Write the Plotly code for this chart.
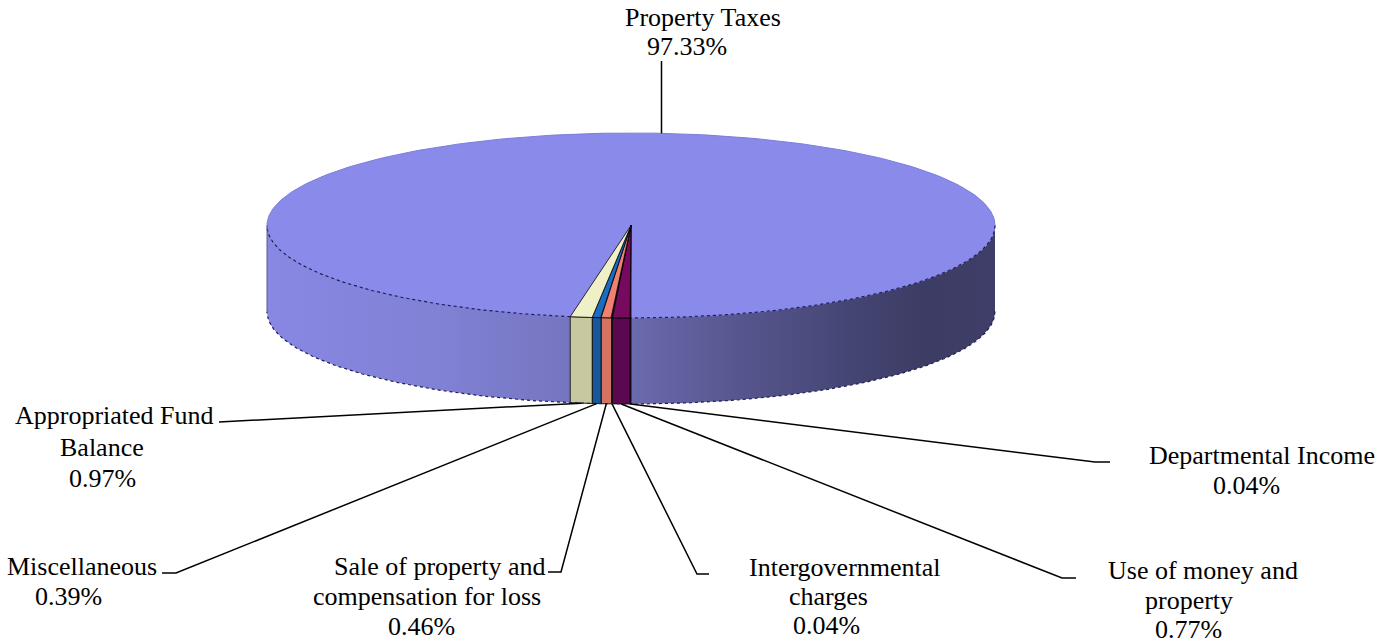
import numpy as np
import plotly.graph_objects as go

# ---- data (in angular order, starting at the front of the pie and moving left) ----
categories = ["Departmental Income", "Use of money and property", "Intergovernmental charges",
              "Sale of property and compensation for loss", "Miscellaneous",
              "Appropriated Fund Balance", "Property Taxes"]
values = [0.04, 0.77, 0.04, 0.46, 0.39, 0.97, 97.33]

# label text split into display lines
label_lines = [["Departmental Income"], ["Use of money and", "property"],
               ["Intergovernmental", "charges"], ["Sale of property and", "compensation for loss"],
               ["Miscellaneous"], ["Appropriated Fund", "Balance"], ["Property Taxes"]]

# ---- style / layout ----
top_colors = ["#9A3468", "#760A5E", "#C0ECEC", "#F08070", "#1A6CC0", "#F0F0C8", "#8A8AEA"]
wall_colors = ["#7A2852", "#5C0850", "#9CC8C8", "#D67262", "#17589A", "#C8C8A0", None]
wall_scale = [[0.0, "#8888E4"], [0.25, "#8080D4"], [0.4, "#7676C2"], [0.5, "#6A6AAE"],
              [0.65, "#56568E"], [0.8, "#454574"], [0.9, "#3C3C64"], [1.0, "#3E3E68"]]
CX, CY, RX, RY, DEPTH = 631.0, 225.5, 364.0, 92.5, 86.0
FONT = dict(family="Liberation Serif, Times New Roman, serif", size=26, color="black")

# label line centres (x, y) for each line (name lines then percent line)
label_pos = [[(1262, 455), (1246, 485)],
             [(1203, 570), (1189, 600), (1188, 629)],
             [(845, 567), (828, 596), (826, 625)],
             [(440, 566), (427, 596), (421, 626)],
             [(82, 566), (68, 596)],
             [(114, 415), (102, 447), (102, 478)],
             [(703, 17), (687, 46)]]
# leader elbows (elbow point, end point); Property Taxes leader ends straight up
leader_pts = [[(1095, 462), (1110, 462)],
              [(1062, 578), (1076, 578)],
              [(697, 574), (709, 574)],
              [(561, 572), (548, 572)],
              [(176, 573), (162, 573)],
              [(232, 422), (219, 422)],
              [None, 61]]


def pt(phi_deg, depth=0.0):
    p = np.radians(phi_deg)
    return CX - RX * np.sin(p), CY + RY * np.cos(p) + depth


def arc(a0, a1, depth=0.0, n=200):
    ph = np.linspace(a0, a1, n)
    return pt(ph, depth)


vals = np.array(values, dtype=float)
ang = np.concatenate([[0.0], np.cumsum(vals) / vals.sum() * 360.0])

fig = go.Figure()

# front wall of the large slice (gradient)
xt, yt = arc(-90, 90)
xb, yb = arc(90, -90, DEPTH)
fig.add_trace(go.Scatter(x=np.concatenate([xt, xb]), y=np.concatenate([yt, yb]),
                         mode="lines", fill="toself", line=dict(width=0),
                         fillgradient=dict(type="horizontal", colorscale=wall_scale),
                         hoverinfo="skip", showlegend=False))

# top face of the large slice (full ellipse, small wedges are drawn on top)
xe, ye = arc(0, 360, 0, 400)
fig.add_trace(go.Scatter(x=xe, y=ye, mode="lines", fill="toself",
                         fillcolor=top_colors[-1], line=dict(color="#7C7CDA", width=1),
                         hoverinfo="skip", showlegend=False))

# small slices: walls and top wedges
for i in range(len(values) - 1):
    a0, a1 = ang[i], ang[i + 1]
    xt, yt = arc(a0, a1, 0, 20)
    xb, yb = arc(a1, a0, DEPTH, 20)
    fig.add_trace(go.Scatter(x=np.concatenate([xt, xb, xt[:1]]), y=np.concatenate([yt, yb, yt[:1]]),
                             mode="lines", fill="toself", fillcolor=wall_colors[i],
                             line=dict(color="black", width=0.8),
                             hoverinfo="skip", showlegend=False, name=categories[i]))
for i in range(len(values) - 1):
    a0, a1 = ang[i], ang[i + 1]
    xa, ya = arc(a0, a1, 0, 20)
    fig.add_trace(go.Scatter(x=np.concatenate([[CX], xa, [CX]]), y=np.concatenate([[CY], ya, [CY]]),
                             mode="lines", fill="toself", fillcolor=top_colors[i],
                             line=dict(color="black", width=0.8),
                             hoverinfo="skip", showlegend=False, name=categories[i]))

# edges of the disc
xf, yf = arc(-90, ang[0])
fig.add_trace(go.Scatter(x=xf, y=yf, mode="lines", line=dict(color="#1E1E58", width=1.2, dash="dot"),
                         hoverinfo="skip", showlegend=False))
xf, yf = arc(ang[len(values) - 1], 90)
fig.add_trace(go.Scatter(x=xf, y=yf, mode="lines", line=dict(color="#1E1E58", width=1.2, dash="dot"),
                         hoverinfo="skip", showlegend=False))
xf, yf = arc(-90, 90, DEPTH)
fig.add_trace(go.Scatter(x=xf, y=yf, mode="lines", line=dict(color="#1E1E58", width=1.2, dash="dot"),
                         hoverinfo="skip", showlegend=False))
xl0, yl0 = pt(90)
xl1, yl1 = pt(90, DEPTH)
fig.add_trace(go.Scatter(x=[xl0, xl1], y=[yl0, yl1], mode="lines",
                         line=dict(color="#5A5A90", width=1), hoverinfo="skip", showlegend=False))

# leader lines
for i in range(len(values)):
    mid = (ang[i] + ang[i + 1]) / 2
    if leader_pts[i][0] is None:
        sx, sy = pt(mid)
        lx, ly = [sx, sx], [sy, leader_pts[i][1]]
    else:
        sx, sy = pt(mid, DEPTH)
        (ex, ey), (fx, fy) = leader_pts[i]
        lx, ly = [sx, ex, fx], [sy, ey, fy]
    fig.add_trace(go.Scatter(x=lx, y=ly, mode="lines", line=dict(color="black", width=1.5),
                             hoverinfo="skip", showlegend=False))

# data labels
annotations = []
for i in range(len(values)):
    lines = label_lines[i] + [f"{values[i]:.2f}%"]
    for text, (x, y) in zip(lines, label_pos[i]):
        annotations.append(dict(x=x, y=y, xref="x", yref="y", text=text, showarrow=False,
                                xanchor="center", yanchor="middle", font=FONT))

fig.update_layout(width=1398, height=644, margin=dict(l=0, r=0, t=0, b=0),
                  paper_bgcolor="white", plot_bgcolor="white", annotations=annotations,
                  xaxis=dict(range=[0, 1398], visible=False, fixedrange=True),
                  yaxis=dict(range=[644, 0], visible=False, fixedrange=True))

fig.write_html("out.html", config={"displayModeBar": False},
               post_script="document.body.style.margin='0';document.body.style.overflow='hidden';")
